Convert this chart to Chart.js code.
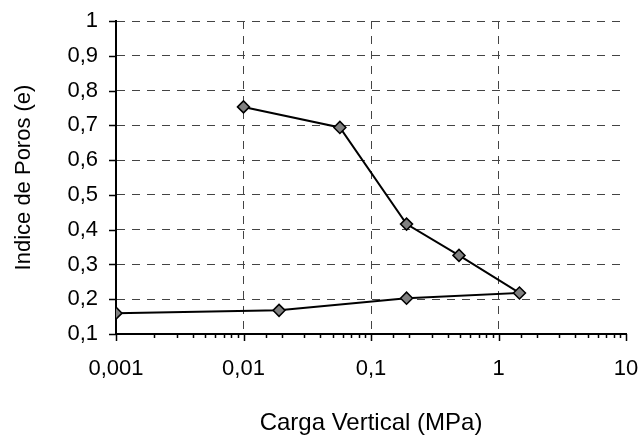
<!DOCTYPE html>
<html>
<head>
<meta charset="utf-8">
<script src="https://cdn.jsdelivr.net/npm/chart.js@4/dist/chart.umd.min.js"></script>
<style>
  html, body { margin: 0; padding: 0; background: #fff; }
  #wrap { width: 641px; height: 439px; }
</style>
</head>
<body>
<div id="wrap"><canvas id="chart-poros"></canvas></div>
<script>
// ── data (loading then unloading) ──
const cargaMPa    = [0.01, 0.057, 0.19, 0.49, 1.46, 0.19, 0.019, 0.001];
const indicePoros = [0.753, 0.694, 0.416, 0.326, 0.218, 0.203, 0.168, 0.16];

const FONT = 'Liberation Sans, Arial, sans-serif';

const isDecade = v => { const l = Math.log10(v); return Math.abs(l - Math.round(l)) < 1e-9; };
const comma    = v => String(Number(v.toFixed(3))).replace('.', ',');

// small tick marks outside the axes (minor ones shorter on the log axis)
const tickMarks = {
  id: 'tickMarks',
  beforeDatasetsDraw(chart) {
    const { ctx, scales: { x, y } } = chart;
    ctx.save();
    ctx.strokeStyle = '#000';
    ctx.lineWidth = 1.5;
    ctx.beginPath();
    x.ticks.forEach(t => {
      const px = Math.round(x.getPixelForValue(t.value)) + 0.5;
      const len = isDecade(t.value) ? 7 : 4;
      ctx.moveTo(px, y.bottom);
      ctx.lineTo(px, y.bottom + len);
    });
    y.ticks.forEach(t => {
      const py = Math.round(y.getPixelForValue(t.value)) + 0.5;
      ctx.moveTo(x.left - 7, py);
      ctx.lineTo(x.left, py);
    });
    ctx.stroke();
    ctx.restore();
  }
};

new Chart(document.getElementById('chart-poros').getContext('2d'), {
  type: 'line',
  data: {
    datasets: [{
      data: cargaMPa.map((c, i) => ({ x: c, y: indicePoros[i] })),
      borderColor: '#000',
      borderWidth: 2,
      tension: 0,
      pointStyle: 'rectRot',
      pointRadius: 6,
      pointBackgroundColor: '#808080',
      pointBorderColor: '#000',
      pointBorderWidth: 1.5
    }]
  },
  options: {
    responsive: true,
    maintainAspectRatio: false,
    animation: false,
    layout: { padding: { top: 21, right: 15, left: 0, bottom: 0 } },
    plugins: { legend: { display: false }, tooltip: { enabled: false } },
    scales: {
      x: {
        type: 'logarithmic',
        min: 0.001, max: 10,
        afterFit: s => { s.height = 105; },
        border: { color: '#000', width: 2, dash: [8, 7] },
        grid: {
          lineWidth: 1,
          tickLength: 22,
          tickColor: 'transparent',
          color: c => (c.tick && isDecade(c.tick.value) && c.tick.value > 0.001 && c.tick.value < 10) ? '#444' : 'transparent'
        },
        ticks: {
          autoSkip: false, maxRotation: 0, padding: 0, color: '#000',
          font: { family: FONT, size: 22 },
          callback: v => isDecade(v) ? comma(v) : ''
        },
        title: {
          display: true, text: 'Carga Vertical (MPa)', color: '#000',
          font: { family: FONT, size: 24 },
          padding: { top: 4, bottom: 1 }
        }
      },
      y: {
        min: 0.1, max: 1,
        afterFit: s => { s.width = 116; },
        border: { color: '#000', width: 2, dash: [8, 7] },
        grid: { lineWidth: 1, color: '#444', tickLength: 18, tickColor: 'transparent' },
        ticks: {
          stepSize: 0.1, padding: 0, color: '#000',
          font: { family: FONT, size: 22 },
          callback: v => comma(v).replace(/,0$/, '')
        },
        title: {
          display: true, text: 'Indice de Poros (e)', color: '#000',
          font: { family: FONT, size: 22 },
          padding: { top: 11, bottom: 0 }
        }
      }
    }
  },
  plugins: [tickMarks]
});
</script>
</body>
</html>
